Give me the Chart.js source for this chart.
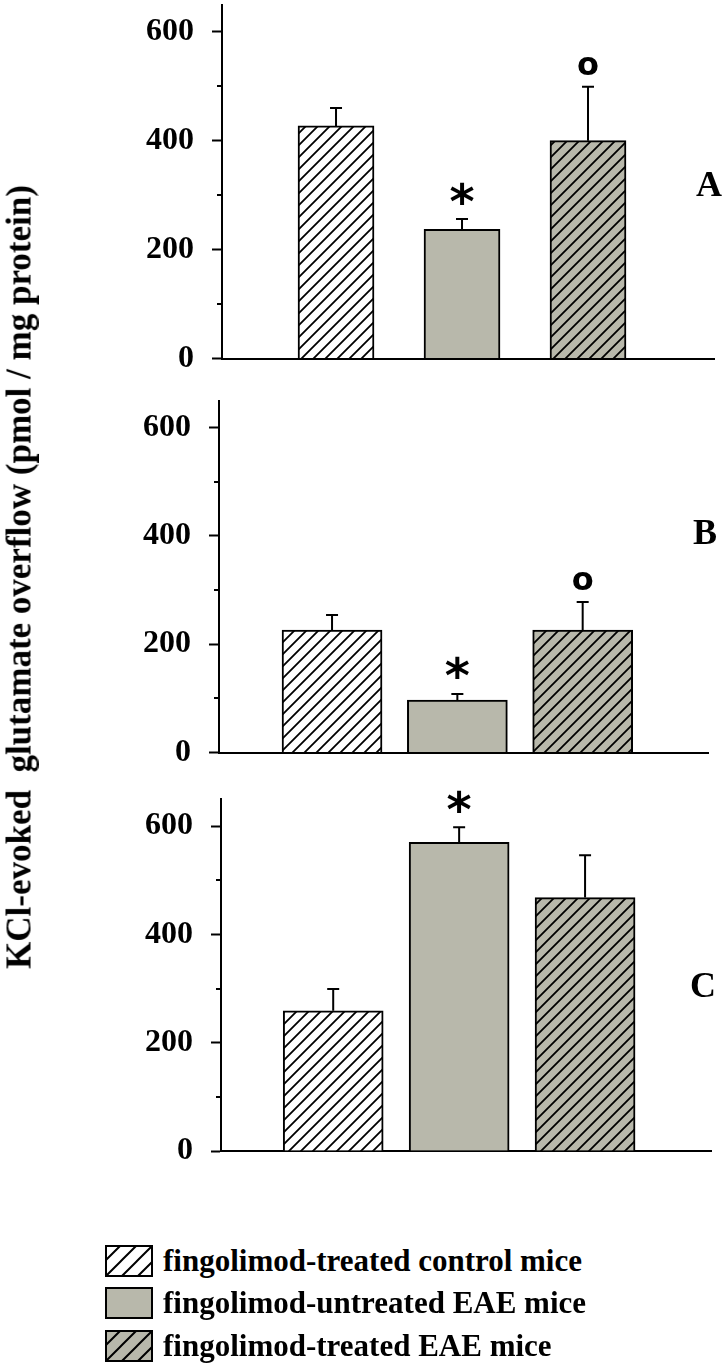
<!DOCTYPE html>
<html><head><meta charset="utf-8">
<script src="https://cdn.jsdelivr.net/npm/chart.js@4/dist/chart.umd.min.js"></script>
<style>
html,body{margin:0;padding:0;background:#fff;}
body{width:728px;height:1370px;overflow:hidden;position:relative;font-family:"Liberation Serif",serif;color:#000;}
canvas.panel{position:absolute;left:0;}
#ytitle{position:absolute;left:19px;top:577px;transform:translate(-50%,-50%) rotate(-90deg);white-space:pre;font:bold 35px "Liberation Serif",serif;line-height:1;}
.letter{position:absolute;font:bold 36px "Liberation Serif",serif;transform:translate(-50%,-50%);line-height:1;}
.leg{position:absolute;left:105px;height:32px;display:flex;align-items:center;}
.leg canvas{display:block;}
.leg span{margin-left:10px;font:bold 31px "Liberation Serif",serif;white-space:nowrap;}
</style></head>
<body>
<canvas id="cA" class="panel" width="728" height="380" style="top:0px"></canvas>
<canvas id="cB" class="panel" width="728" height="390" style="top:385px"></canvas>
<canvas id="cC" class="panel" width="728" height="395" style="top:780px"></canvas>
<div id="ytitle">KCl-evoked  glutamate overflow (pmol / mg protein)</div>
<div class="letter" style="left:709px;top:184px">A</div>
<div class="letter" style="left:705px;top:532px">B</div>
<div class="letter" style="left:703px;top:985px">C</div>
<div class="leg" style="top:1245px"><canvas id="sw0" width="48" height="32"></canvas><span id="lg0"></span></div>
<div class="leg" style="top:1287px"><canvas id="sw1" width="48" height="32"></canvas><span id="lg1"></span></div>
<div class="leg" style="top:1330px"><canvas id="sw2" width="48" height="32"></canvas><span id="lg2"></span></div>
<script>
// ---- data ----
const categories = ['fingolimod-treated control mice', 'fingolimod-untreated EAE mice', 'fingolimod-treated EAE mice'];
const xPositions = [1, 2, 3];
const meansA = [427, 237, 400];
const semA   = [33, 19, 99];
const meansB = [226, 97, 226];
const semB   = [28, 11, 52];
const meansC = [259, 570, 468];
const semC   = [40, 28, 78];
const markersA = ['', '*', 'o'];
const markersB = ['', '*', 'o'];
const markersC = ['', '*', ''];
const yMajorStep = 200;
const yMinorTicks = [100, 300, 500];
const yMax = 650;

const GRAY = '#b8b8ab';

function makeTile(bg, size, lw) {
  const c = document.createElement('canvas');
  c.width = c.height = size;
  const g = c.getContext('2d');
  g.fillStyle = bg; g.fillRect(0, 0, size, size);
  g.strokeStyle = '#000'; g.lineWidth = lw;
  g.beginPath();
  g.moveTo(-1, size + 1); g.lineTo(size + 1, -1);
  g.moveTo(-size / 2 - 1, size / 2 + 1); g.lineTo(size / 2 + 1, -size / 2 - 1);
  g.moveTo(size / 2 - 1, size * 1.5 + 1); g.lineTo(size * 1.5 + 1, size / 2 - 1);
  g.stroke();
  return c;
}

const errorPlugin = {
  id: 'errbars',
  afterDatasetsDraw(chart) {
    const ctx = chart.ctx;
    const ds = chart.data.datasets[0];
    const meta = chart.getDatasetMeta(0);
    const ys = chart.scales.y;
    ctx.save();
    ctx.strokeStyle = '#000';
    ctx.lineWidth = 2;
    meta.data.forEach((bar, i) => {
      const v = ds.data[i].y + ds.errors[i];
      const top = ys.getPixelForValue(v);
      ctx.beginPath();
      ctx.moveTo(bar.x, bar.y);
      ctx.lineTo(bar.x, top);
      ctx.moveTo(bar.x - 6, top);
      ctx.lineTo(bar.x + 6, top);
      ctx.stroke();
      const m = ds.markers[i];
      if (m) {
        ctx.fillStyle = '#000';
        ctx.textAlign = 'center';
        ctx.textBaseline = 'middle';
        if (m === '*') {
          ctx.font = 'bold 48px "DejaVu Sans"';
          ctx.fillText('*', bar.x, top - 14);
        } else {
          ctx.font = 'bold 32px "DejaVu Sans"';
          ctx.fillText('o', bar.x, top - 20);
        }
      }
    });
    const left = chart.chartArea.left;
    yMinorTicks.forEach(v => {
      const py = Math.round(ys.getPixelForValue(v));
      ctx.beginPath();
      ctx.moveTo(left, py);
      ctx.lineTo(left - 5, py);
      ctx.stroke();
    });
    ctx.restore();
  }
};

function makePanel(id, means, sems, markers, g) {
  const canvas = document.getElementById(id);
  const ctx = canvas.getContext('2d');
  const pw = ctx.createPattern(makeTile('#ffffff', 12, 1.8), 'repeat');
  const pg = ctx.createPattern(makeTile(GRAY, 12, 1.8), 'repeat');
  const data = xPositions.map((x, i) => ({ x: x, y: means[i] }));
  return new Chart(canvas, {
    type: 'bar',
    data: {
      datasets: [{
        label: 'panel',
        data: data,
        errors: sems,
        markers: markers,
        backgroundColor: [pw, GRAY, pg],
        borderColor: '#000',
        borderWidth: 2,
        borderSkipped: 'bottom',
        barThickness: g.barW
      }]
    },
    options: {
      responsive: false,
      animation: false,
      devicePixelRatio: 1,
      layout: { padding: { left: 0, right: g.padR, top: g.padT, bottom: g.padB } },
      plugins: { legend: { display: false }, tooltip: { enabled: false } },
      scales: {
        x: {
          type: 'linear', min: g.xmin, max: 4, offset: false,
          grid: { display: true, drawOnChartArea: false, drawTicks: false, offset: false },
          ticks: { display: false },
          border: { display: true, color: '#000', width: 2 },
          afterFit: s => { s.height = 0; s.paddingLeft = 0; s.paddingRight = 0; s.paddingTop = 0; s.paddingBottom = 0; }
        },
        y: {
          min: 0, max: yMax,
          afterFit: s => { s.width = g.left; s.paddingTop = 0; s.paddingBottom = 0; s.paddingLeft = 0; s.paddingRight = 0; },
          grid: { drawOnChartArea: false, drawTicks: true, tickLength: 10, tickColor: '#000', tickWidth: 2 },
          border: { display: true, color: '#000', width: 2 },
          ticks: {
            stepSize: yMajorStep, includeBounds: false, padding: 18, color: '#000',
            font: { family: '"Liberation Serif"', weight: 'bold', size: 32 }
          }
        }
      }
    },
    plugins: [errorPlugin]
  });
}

makePanel('cA', meansA, semA, markersA, { left: 222, padR: 14, padT: 4.5, padB: 21.5, xmin: 0.095, barW: 76 });
makePanel('cB', meansB, semB, markersB, { left: 219, padR: 20, padT: 15.5, padB: 22.5, xmin: 0.098, barW: 100 });
makePanel('cC', meansC, semC, markersC, { left: 221, padR: 17, padT: 19, padB: 24, xmin: 0.109, barW: 100 });

const swBgs = ['#ffffff', GRAY, GRAY];
const swHatch = [true, false, true];
for (let i = 0; i < 3; i++) {
  const c = document.getElementById('sw' + i);
  const g = c.getContext('2d');
  g.fillStyle = swHatch[i] ? g.createPattern(makeTile(swBgs[i], 16, 2), 'repeat') : swBgs[i];
  g.fillRect(0, 0, 48, 32);
  g.strokeStyle = '#000'; g.lineWidth = 2;
  g.strokeRect(1, 1, 46, 30);
  document.getElementById('lg' + i).textContent = categories[i];
}
</script>
</body></html>
